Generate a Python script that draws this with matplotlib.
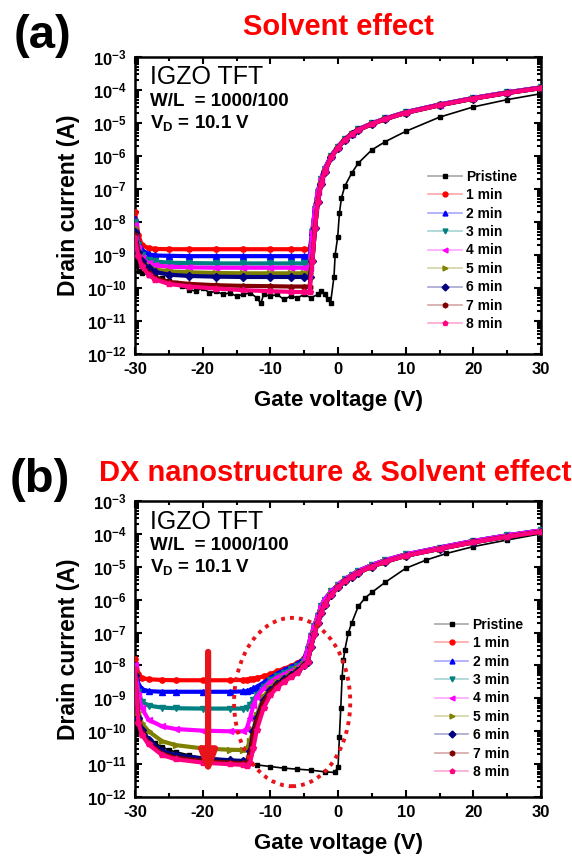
import numpy as np
import matplotlib
matplotlib.use('Agg')
import matplotlib.pyplot as plt
from matplotlib.lines import Line2D
from matplotlib.patches import Ellipse
from matplotlib.ticker import LogLocator, MultipleLocator, FuncFormatter, NullFormatter

plt.rcParams['font.family'] = ['Liberation Sans', 'DejaVu Sans']
plt.rcParams['mathtext.fontset'] = 'custom'
plt.rcParams['mathtext.rm'] = 'Liberation Sans:bold'
plt.rcParams['mathtext.bf'] = 'Liberation Sans:bold'
plt.rcParams['mathtext.default'] = 'rm'
plt.rcParams['axes.unicode_minus'] = False

# series names, colours and markers
labels = ['Pristine', '1 min', '2 min', '3 min', '4 min', '5 min', '6 min', '7 min', '8 min']
colors = ['#000000', '#ff0000', '#0000ff', '#008080', '#ff00ff', '#808000', '#000080', '#800000', '#ff0080']
markers = ['s', 'o', '^', 'v', '<', '>', 'D', 'h', 'p']

# ---------------- (a) Solvent effect : log10(Id) ----------------
vg_a_pris = [-30, -29.7, -29.4, -29, -28, -27, -26, -25, -24, -23, -22, -21, -20, -19, -18, -17,
             -16, -15, -14, -13, -12, -11.4, -11, -10, -9, -8, -7, -6, -5, -4, -3, -2.5, -2, -1.5,
             -1.1, -0.6, -0.43, -0.05, 0.2, 0.5, 1, 2, 3, 5, 7, 10, 15, 20, 25, 30]
id_a_pris = [-8.8, -9.3, -9.5, -9.55, -9.6, -9.65, -9.7, -9.8, -9.85, -9.95, -10.05, -10.1, -10.0,
             -10.15, -10.1, -10.2, -10.15, -10.25, -10.2, -10.15, -10.3, -10.47, -10.2, -10.25, -10.2,
             -10.35, -10.25, -10.3, -10.2, -10.3, -10.2, -10.1, -10.2, -10.35, -10.45, -9.66, -9.0,
             -8.45, -7.74, -7.28, -6.92, -6.53, -6.22, -5.82, -5.57, -5.26, -4.83, -4.52, -4.3, -4.12]

vg_a_off = [-30, -29.5, -29, -28, -27, -25, -22, -18, -14, -10, -7, -5, -4.2]
id_a_off = [
    [-7.7, -8.4, -8.7, -8.8, -8.82, -8.83, -8.83, -8.83, -8.83, -8.83, -8.83, -8.83, -8.83],
    [-7.9, -8.6, -8.85, -8.98, -9.02, -9.03, -9.04, -9.04, -9.04, -9.04, -9.04, -9.04, -9.04],
    [-8.0, -8.7, -9.0, -9.15, -9.2, -9.24, -9.25, -9.26, -9.26, -9.26, -9.26, -9.26, -9.26],
    [-8.1, -8.8, -9.1, -9.25, -9.32, -9.36, -9.38, -9.39, -9.39, -9.39, -9.39, -9.39, -9.39],
    [-8.2, -8.85, -9.15, -9.35, -9.45, -9.5, -9.53, -9.55, -9.56, -9.56, -9.56, -9.56, -9.56],
    [-8.3, -8.9, -9.2, -9.4, -9.52, -9.6, -9.64, -9.66, -9.67, -9.67, -9.67, -9.67, -9.67],
    [-8.4, -9.0, -9.3, -9.55, -9.7, -9.82, -9.88, -9.92, -9.94, -9.95, -9.96, -9.96, -9.96],
    [-8.5, -9.05, -9.35, -9.6, -9.75, -9.88, -9.96, -10.02, -10.07, -10.1, -10.12, -10.13, -10.13],
]
vg_a_on = [-3.8, -3.4, -3.0, -2.5, -2, -1, 0, 1, 2, 3, 5, 7, 10, 15, 20, 25, 30]
id_a_on_early = [-8.3, -7.6, -7.1, -6.7, -6.4, -6.0, -5.72, -5.5, -5.33, -5.2, -5.02, -4.87,
                 -4.68, -4.45, -4.25, -4.08, -3.93]
id_a_on_late = [-9.2, -8.2, -7.4, -6.85, -6.5, -6.05, -5.75, -5.52, -5.35, -5.22, -5.04, -4.89,
                -4.7, -4.47, -4.27, -4.1, -3.95]

# ---------------- (b) DX nanostructure & Solvent effect ----------------
vg_b_pris = [-30, -29.5, -29, -28, -27, -26, -25, -24, -22, -20, -18, -16, -14, -12, -10, -8, -6,
             -4, -2, -0.5, 0, 0.2, 0.4, 0.6, 0.8, 1.0, 1.5, 2, 3, 4, 5, 7, 10, 13, 16, 20, 25, 30]
id_b_pris = [-9.91, -10.0, -10.11, -10.26, -10.37, -10.47, -10.57, -10.62, -10.72, -10.82, -10.87,
             -10.92, -10.97, -11.02, -11.07, -11.12, -11.15, -11.18, -11.23, -11.25, -11.08, -10.16,
             -9.3, -8.34, -7.83, -7.53, -7.02, -6.72, -6.2, -5.95, -5.78, -5.47, -5.05, -4.8,
             -4.6, -4.39, -4.19, -4.0]

vg_b_low = [-30, -29.5, -29, -28, -26, -24, -20, -16, -14, -13.5, -13, -12.5, -12, -11, -10, -9,
            -8, -7, -6, -5]
id_b_low = [
    [-7.8, -8.25, -8.38, -8.42, -8.44, -8.45, -8.45, -8.45, -8.44, -8.43, -8.42, -8.4, -8.38,
     -8.33, -8.26, -8.18, -8.1, -8.02, -7.93, -7.78],
    [-8.0, -8.55, -8.72, -8.78, -8.8, -8.8, -8.8, -8.8, -8.79, -8.78, -8.75, -8.7, -8.65, -8.52,
     -8.38, -8.25, -8.15, -8.05, -7.95, -7.8],
    [-8.1, -8.8, -9.1, -9.22, -9.28, -9.3, -9.31, -9.31, -9.31, -9.28, -9.2, -9.05, -8.9, -8.65,
     -8.45, -8.32, -8.22, -8.12, -8.02, -7.86],
    [-8.0, -8.9, -9.3, -9.65, -9.85, -9.93, -9.98, -10.0, -10.0, -9.92, -9.6, -9.2, -8.95, -8.7,
     -8.5, -8.37, -8.27, -8.17, -8.06, -7.9],
    [-8.2, -9.4, -9.75, -10.0, -10.3, -10.42, -10.52, -10.56, -10.57, -10.55, -10.3, -9.95, -9.5,
     -8.95, -8.68, -8.5, -8.37, -8.25, -8.12, -7.95],
    [-8.3, -9.6, -9.95, -10.25, -10.6, -10.72, -10.82, -10.88, -10.9, -10.92, -10.6, -10.0, -9.6,
     -9.05, -8.75, -8.56, -8.42, -8.3, -8.16, -7.98],
    [-8.4, -9.7, -10.05, -10.35, -10.68, -10.8, -10.9, -10.95, -10.97, -10.98, -10.7, -10.1, -9.7,
     -9.12, -8.8, -8.6, -8.46, -8.33, -8.19, -8.0],
    [-8.1, -9.75, -10.1, -10.4, -10.72, -10.85, -10.95, -11.0, -11.02, -11.05, -10.95, -10.5,
     -9.95, -9.3, -8.9, -8.67, -8.5, -8.36, -8.22, -8.02],
]
vg_b_on = [-4.5, -4, -3.5, -3, -2.5, -2, -1, 0, 1, 2, 3, 5, 7, 10, 15, 20, 25, 30]
id_b_on_early = [-7.5, -7.1, -6.8, -6.5, -6.2, -6.0, -5.75, -5.55, -5.38, -5.25, -5.13, -4.95,
                 -4.8, -4.63, -4.42, -4.22, -4.05, -3.9]
id_b_on_late = [-7.9, -7.45, -7.05, -6.7, -6.4, -6.15, -5.85, -5.62, -5.45, -5.3, -5.18, -5.0,
                -4.85, -4.67, -4.46, -4.26, -4.09, -3.94]


def draw_panel(ax, vg_pris, id_pris, vg_low, id_low, vg_on, on_early, on_late):
    ax.plot(vg_pris, 10 ** np.array(id_pris), color=colors[0], lw=1.2,
            marker=markers[0], ms=3.2, zorder=2)
    for i in range(8):
        on = on_early if i < 4 else on_late
        vg = list(vg_low) + list(vg_on)
        cur = 10 ** np.array(list(id_low[i]) + list(on))
        ax.plot(vg, cur, color=colors[i + 1], lw=3.0, marker=markers[i + 1], ms=3.8,
                zorder=3 + i)

    ax.set_yscale('log')
    ax.set_ylim(1e-12, 1e-3)
    ax.set_xlim(-30, 30)
    ax.yaxis.set_major_locator(LogLocator(base=10, numticks=20))
    ax.yaxis.set_minor_locator(LogLocator(base=10, subs=np.arange(2, 10), numticks=20))
    ax.yaxis.set_major_formatter(FuncFormatter(lambda v, p: r'$10^{%d}$' % round(np.log10(v))))
    ax.yaxis.set_minor_formatter(NullFormatter())
    ax.xaxis.set_major_locator(MultipleLocator(10))
    ax.xaxis.set_minor_locator(MultipleLocator(5))
    ax.tick_params(which='both', direction='in', top=True, right=True, width=1.5)
    ax.tick_params(which='major', length=5, labelsize=12, pad=6)
    ax.tick_params(which='minor', length=3)
    for t in ax.get_xticklabels():
        t.set_fontweight('bold')
    for s in ax.spines.values():
        s.set_linewidth(1.8)

    ax.set_xlabel('Gate voltage (V)', fontsize=16, fontweight='bold', labelpad=9)
    ax.set_ylabel('Drain current (A)', fontsize=16.5, fontweight='bold', labelpad=5)

    ax.text(0.037, 0.93, 'IGZO TFT', transform=ax.transAxes, fontsize=18, va='center')
    ax.text(0.037, 0.85, 'W/L  = 1000/100', transform=ax.transAxes, fontsize=13.5,
            fontweight='bold', va='center')
    ax.text(0.037, 0.778, r'V$_\mathregular{D}$ = 10.1 V', transform=ax.transAxes, fontsize=13.5,
            fontweight='bold', va='center')


fig = plt.figure(figsize=(5.72, 8.59), dpi=100)
ax_a = fig.add_axes([0.236, 0.588, 0.710, 0.346])
ax_b = fig.add_axes([0.236, 0.072, 0.710, 0.345])

draw_panel(ax_a, vg_a_pris, id_a_pris, vg_a_off, id_a_off, vg_a_on, id_a_on_early, id_a_on_late)
draw_panel(ax_b, vg_b_pris, id_b_pris, vg_b_low, id_b_low, vg_b_on, id_b_on_early, id_b_on_late)

# legends with pale lines and solid markers
handles = []
for c, m, lab in zip(colors, markers, labels):
    rgba = matplotlib.colors.to_rgba(c, 0.35)
    handles.append(Line2D([], [], color=rgba, lw=1.2, marker=m, ms=3.5,
                          markerfacecolor=c, markeredgecolor=c, label=lab))
for ax, anchor in [(ax_a, (0.722, 0.348)), (ax_b, (0.739, 0.333))]:
    ax.legend(handles=handles, loc='center left', bbox_to_anchor=anchor, frameon=False,
              prop={'weight': 'bold', 'size': 10}, handlelength=2.4, handletextpad=0.3,
              labelspacing=0.32, borderpad=0, borderaxespad=0)

# annotations in (b): red arrow and dotted ellipse
ax_b.annotate('', xy=(-19.2, 10 ** -11.33), xytext=(-19.2, 10 ** -7.59),
              arrowprops=dict(arrowstyle='-|>,head_width=0.5,head_length=1.3', color='#e8141c',
                              lw=4.5, shrinkA=0, shrinkB=0), zorder=20)
ax_b.add_patch(Ellipse((0.387, 0.321), 0.286, 0.568, transform=ax_b.transAxes, fill=False,
                       edgecolor='#e8141c', lw=2.8, linestyle=(0, (1, 1.3)), zorder=20))

# panel letters and titles
fig.text(0.075, 0.958, '(a)', fontsize=34, fontweight='bold', ha='center', va='center')
fig.text(0.070, 0.441, '(b)', fontsize=34, fontweight='bold', ha='center', va='center')
fig.text(0.591, 0.969, 'Solvent effect', fontsize=21, fontweight='bold', color='#ff0000',
         ha='center', va='center')
fig.text(0.586, 0.449, 'DX nanostructure & Solvent effect', fontsize=21, fontweight='bold',
         color='#ff0000', ha='center', va='center')

fig.savefig('out.png', dpi=100)
